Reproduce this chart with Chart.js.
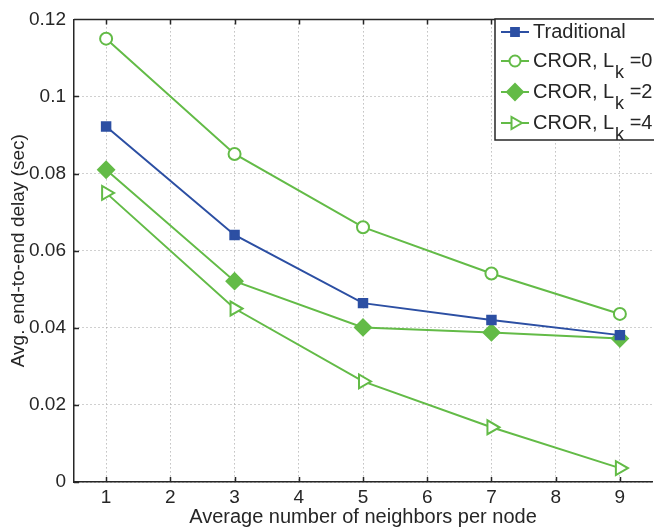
<!DOCTYPE html>
<html>
<head>
<meta charset="utf-8">
<script src="https://cdn.jsdelivr.net/npm/chart.js@4/dist/chart.umd.min.js"></script>
<style>
  html, body { margin: 0; padding: 0; background: #fff; overflow: hidden; }
  #wrap { width: 662px; height: 529px; }
</style>
</head>
<body>
<div id="wrap"><canvas id="myChart" width="662" height="529"></canvas></div>
<script>
// data
const neighbors = [1, 3, 5, 7, 9];
const traditional = [0.0922, 0.0641, 0.0464, 0.0420, 0.0381];
const cror0 = [0.1150, 0.0851, 0.0661, 0.0541, 0.0436];
const cror2 = [0.0810, 0.0521, 0.0401, 0.0388, 0.0372];
const cror4 = [0.0750, 0.0450, 0.0261, 0.0142, 0.0036];
const xTicks = [1, 2, 3, 4, 5, 6, 7, 8, 9];
const yTicks = [0, 0.02, 0.04, 0.06, 0.08, 0.1, 0.12];

const BLUE = '#2c4fa3';
const GREEN = '#63bb47';
const INK = '#262626';
const FONT = 'Liberation Sans, Arial, sans-serif';

function pts(ys) {
    return neighbors.map((x, i) => ({ x: x, y: ys[i] }));
}

const legendItems = [
    { text: 'Traditional', sub: '', tail: '', color: BLUE, style: 'rect', fill: true, rot: 0, r: 5.5 },
    { text: 'CROR, L', sub: 'k', tail: ' =0', color: GREEN, style: 'circle', fill: false, rot: 0, r: 5.5 },
    { text: 'CROR, L', sub: 'k', tail: ' =2', color: GREEN, style: 'rectRot', fill: true, rot: 0, r: 8 },
    { text: 'CROR, L', sub: 'k', tail: ' =4', color: GREEN, style: 'triangle', fill: false, rot: 90, r: 7 }
];

// box on top, inward tick marks, and a legend with subscripts
const boxAndLegend = {
    id: 'boxAndLegend',
    afterDraw(chart) {
        const ctx = chart.ctx;
        const a = chart.chartArea;
        const xs = chart.scales.x, ys = chart.scales.y;
        ctx.save();
        ctx.strokeStyle = INK;
        ctx.lineWidth = 1.5;
        ctx.beginPath();
        ctx.moveTo(a.left, a.top);
        ctx.lineTo(a.right, a.top);
        xTicks.forEach(v => {
            const px = Math.round(xs.getPixelForValue(v)) + 0.5;
            ctx.moveTo(px, a.bottom); ctx.lineTo(px, a.bottom - 5);
            ctx.moveTo(px, a.top); ctx.lineTo(px, a.top + 5);
        });
        yTicks.forEach(v => {
            const py = Math.round(ys.getPixelForValue(v)) + 0.5;
            ctx.moveTo(a.left, py); ctx.lineTo(a.left + 5, py);
        });
        ctx.stroke();

        // legend
        const lx = 495, ly = 19, lw = 170, lh = 121;
        ctx.fillStyle = '#fff';
        ctx.fillRect(lx, ly, lw, lh);
        ctx.strokeStyle = INK;
        ctx.lineWidth = 1.5;
        ctx.strokeRect(lx, ly, lw, lh);
        const rows = [32, 61, 92, 123];
        legendItems.forEach((it, i) => {
            const y = rows[i];
            ctx.strokeStyle = it.color;
            ctx.lineWidth = 2;
            ctx.beginPath();
            ctx.moveTo(501, y); ctx.lineTo(529, y);
            ctx.stroke();
            ctx.fillStyle = it.fill ? it.color : '#fff';
            Chart.helpers.drawPoint(ctx, {
                pointStyle: it.style, radius: it.r, rotation: it.rot, borderWidth: 2
            }, 515, y);
            if (it.fill) ctx.fill();
            ctx.fillStyle = INK;
            ctx.textBaseline = 'middle';
            ctx.textAlign = 'left';
            ctx.font = '20px ' + FONT;
            let tx = 533;
            ctx.fillText(it.text, tx, y);
            tx += ctx.measureText(it.text).width + 1;
            if (it.sub) {
                ctx.font = '18px ' + FONT;
                ctx.fillText(it.sub, tx, y + 12);
                tx += ctx.measureText(it.sub).width;
                ctx.font = '20px ' + FONT;
                ctx.fillText(it.tail, tx, y);
            }
        });
        ctx.restore();
    }
};

const gridOpts = { color: '#a0a0a0', drawTicks: false, lineWidth: 1 };

const context = document.getElementById('myChart').getContext('2d');
const myChart = new Chart(context, {
    type: 'line',
    data: {
        datasets: [
            {
                label: 'Traditional',
                data: pts(traditional),
                borderColor: BLUE,
                backgroundColor: BLUE,
                pointStyle: 'rect',
                pointRadius: 6,
                borderWidth: 2
            },
            {
                label: 'CROR, Lk =0',
                data: pts(cror0),
                borderColor: GREEN,
                backgroundColor: '#fff',
                pointStyle: 'circle',
                pointRadius: 6,
                pointBorderWidth: 2,
                borderWidth: 2
            },
            {
                label: 'CROR, Lk =2',
                data: pts(cror2),
                borderColor: GREEN,
                backgroundColor: GREEN,
                pointStyle: 'rectRot',
                pointRadius: 8,
                borderWidth: 2
            },
            {
                label: 'CROR, Lk =4',
                data: pts(cror4),
                borderColor: GREEN,
                backgroundColor: '#fff',
                pointStyle: 'triangle',
                pointRotation: 90,
                pointRadius: 8,
                pointBorderWidth: 2,
                borderWidth: 2
            }
        ]
    },
    options: {
        responsive: false,
        animation: false,
        devicePixelRatio: 1,
        layout: { padding: { top: 14, right: 4, left: 0, bottom: 0 } },
        plugins: {
            legend: { display: false },
            tooltip: { enabled: false }
        },
        scales: {
            x: {
                type: 'linear',
                min: 0.5,
                max: 9.5,
                afterBuildTicks: s => { s.ticks = xTicks.map(v => ({ value: v })); },
                afterFit: s => { s.height = 47; },
                grid: gridOpts,
                border: { display: true, color: INK, width: 1.5, dash: [1, 3] },
                ticks: { color: INK, font: { family: FONT, size: 19 }, padding: 4 },
                title: {
                    display: true,
                    text: 'Average number of neighbors per node',
                    color: INK,
                    font: { family: FONT, size: 20 },
                    padding: { top: 0, bottom: 0 }
                }
            },
            y: {
                min: 0,
                max: 0.12,
                afterBuildTicks: s => { s.ticks = yTicks.map(v => ({ value: v })); },
                afterFit: s => { s.width = 74; },
                grid: gridOpts,
                border: { display: true, color: INK, width: 1.5, dash: [1, 3] },
                ticks: {
                    color: INK,
                    font: { family: FONT, size: 19 },
                    padding: 8,
                    callback: v => String(Number(v.toFixed(2)))
                },
                title: {
                    display: true,
                    text: 'Avg. end-to-end delay (sec)',
                    color: INK,
                    font: { family: FONT, size: 19 },
                    padding: { top: 7, bottom: 0 }
                }
            }
        }
    },
    plugins: [boxAndLegend]
});
</script>
</body>
</html>
